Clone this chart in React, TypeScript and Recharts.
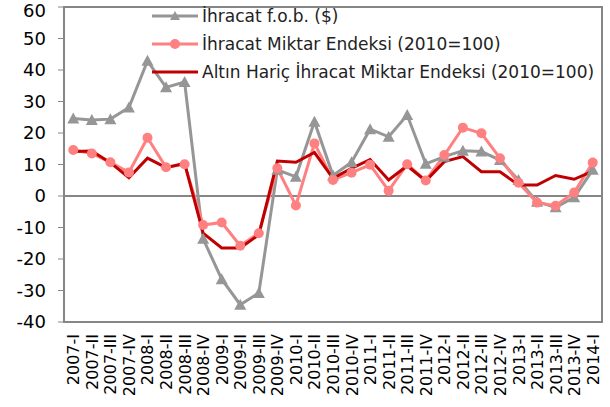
import { LineChart, Line, XAxis, YAxis, ReferenceLine, ReferenceArea } from "recharts";

const quarters = [
  "2007-I", "2007-II", "2007-III", "2007-IV",
  "2008-I", "2008-II", "2008-III", "2008-IV",
  "2009-I", "2009-II", "2009-III", "2009-IV",
  "2010-I", "2010-II", "2010-III", "2010-IV",
  "2011-I", "2011-II", "2011-III", "2011-IV",
  "2012-I", "2012-II", "2012-III", "2012-IV",
  "2013-I", "2013-II", "2013-III", "2013-IV",
  "2014-I",
];

const ihracatFob = [
  24.6, 24.1, 24.4, 28.1, 42.9, 34.5, 36.2, -13.6, -26.4, -34.5, -30.8, 8.3, 6.1, 23.6, 6.5,
  10.7, 21.2, 18.8, 25.7, 10.2, 12.5, 14.4, 14.1, 11.4, 5.1, -1.8, -3.6, -0.4, 8.3,
];

const miktarEndeksi = [
  14.6, 13.5, 10.7, 7.5, 18.5, 9.1, 10.1, -9.2, -8.4, -15.8, -11.8, 8.8, -3.0, 16.7, 5.1,
  7.4, 9.9, 1.7, 10.1, 4.9, 13.0, 21.7, 19.9, 12.0, 4.2, -2.1, -3.1, 1.1, 10.6,
];

const altinHaric = [
  14.1, 14.3, 10.6, 5.8, 12.0, 9.0, 10.4, -11.8, -16.5, -16.5, -12.3, 11.1, 10.7, 13.8, 5.6,
  8.8, 11.6, 5.1, 9.6, 4.8, 10.9, 12.5, 7.7, 7.7, 3.5, 3.5, 6.5, 5.3, 7.9,
];

const yTicks = [-40, -30, -20, -10, 0, 10, 20, 30, 40, 50, 60];

const seriesNames = [
  "İhracat f.o.b. ($)",
  "İhracat Miktar Endeksi (2010=100)",
  "Altın Hariç İhracat Miktar Endeksi (2010=100)",
];

const data = quarters.map((q, i) => ({
  q,
  fob: ihracatFob[i],
  miktar: miktarEndeksi[i],
  altin: altinHaric[i],
}));

const FONT = "'DejaVu Sans', sans-serif";
const GRAY = "#969696";
const PINK = "#ff8080";
const DARK = "#c00000";
const AXIS = "#868686";

const Triangle = (props: any) => {
  const { cx, cy, index } = props;
  if (cx == null || cy == null) return null;
  return (
    <polygon
      key={`tri-${index}`}
      points={`${cx},${cy - 6} ${cx - 6},${cy + 5} ${cx + 6},${cy + 5}`}
      fill={GRAY}
    />
  );
};

const XTick = (props: any) => {
  const { x, y, payload } = props;
  return (
    <text
      x={x}
      y={y}
      transform={`rotate(-90, ${x}, ${y})`}
      textAnchor="end"
      dy={6}
      dx={-4}
      fontSize={16}
      fontFamily={FONT}
      fill="#000"
    >
      {payload.value}
    </text>
  );
};

// legend sits inside the plot, top-left, like the excel original
const LegendBox = () => {
  const rows = [
    { name: seriesNames[0], color: GRAY, marker: "tri" },
    { name: seriesNames[1], color: PINK, marker: "circle" },
    { name: seriesNames[2], color: DARK, marker: "none" },
  ];
  return (
    <div
      style={{
        position: "absolute",
        left: 152,
        top: 2,
        fontFamily: FONT,
        fontSize: 17,
        color: "#222",
      }}
    >
      {rows.map((r) => (
        <div key={r.name} style={{ display: "flex", alignItems: "center", height: 28 }}>
          <svg width={46} height={14} style={{ marginRight: 4 }}>
            <line x1={0} y1={7} x2={46} y2={7} stroke={r.color} strokeWidth={3} />
            {r.marker === "tri" && <polygon points="23,2 18,11 28,11" fill={r.color} />}
            {r.marker === "circle" && <circle cx={23} cy={7} r={5} fill={r.color} />}
          </svg>
          <span style={{ whiteSpace: "nowrap" }}>{r.name}</span>
        </div>
      ))}
    </div>
  );
};

export default function App() {
  return (
    <div style={{ position: "absolute", left: 0, top: 0, width: 610, height: 407, background: "#fff" }}>
      <LineChart width={610} height={407} data={data} margin={{ top: 7, right: 8, bottom: 0, left: 0 }}>
        <ReferenceArea y1={-40} y2={60} fill="none" stroke={AXIS} strokeWidth={2} />
        <ReferenceLine y={0} stroke={AXIS} strokeWidth={2} />
        <XAxis
          dataKey="q"
          scale="band"
          interval={0}
          height={85}
          axisLine={false}
          tickLine={false}
          tick={<XTick />}
        />
        <YAxis
          domain={[-40, 60]}
          ticks={yTicks}
          width={64}
          axisLine={{ stroke: AXIS, strokeWidth: 2 }}
          tickLine={{ stroke: AXIS }}
          tickSize={6}
          tick={{ fontSize: 18, fontFamily: FONT, fill: "#000", dx: -10 }}
        />
        <Line
          dataKey="fob"
          name={seriesNames[0]}
          stroke={GRAY}
          strokeWidth={3}
          dot={<Triangle />}
          isAnimationActive={false}
        />
        <Line
          dataKey="miktar"
          name={seriesNames[1]}
          stroke={PINK}
          strokeWidth={3}
          dot={{ r: 5, fill: PINK, stroke: PINK, strokeWidth: 0 }}
          isAnimationActive={false}
        />
        <Line
          dataKey="altin"
          name={seriesNames[2]}
          stroke={DARK}
          strokeWidth={3}
          dot={false}
          isAnimationActive={false}
        />
      </LineChart>
      <LegendBox />
    </div>
  );
}
